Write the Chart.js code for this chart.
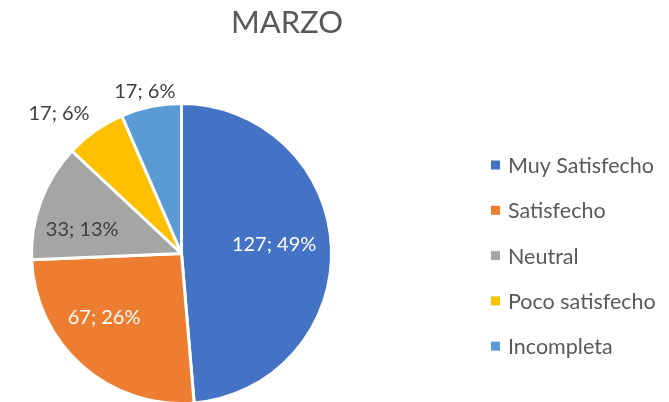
<!DOCTYPE html>
<html>
<head>
<meta charset="utf-8">
<script src="https://cdn.jsdelivr.net/npm/chart.js@4"></script>
<style>
  html, body { margin: 0; padding: 0; background: #fff; overflow: hidden; }
  #wrap { width: 669px; height: 402px; position: relative; overflow: hidden; }
</style>
</head>
<body>
<div id="wrap"><canvas id="c" width="669" height="408"></canvas></div>
<script>
const chartTitle = "MARZO";
const categories = ["Muy Satisfecho", "Satisfecho", "Neutral", "Poco satisfecho", "Incompleta"];
const values = [127, 67, 33, 17, 17];
const percentLabels = ["49%", "26%", "13%", "6%", "6%"];
const colors = ["#4472C4", "#ED7D31", "#A5A5A5", "#FFC000", "#5B9BD5"];

const FONT = "Lato, 'Open Sans', sans-serif";

// label placement per slice: angle shift (deg), radius fraction, text colour
const labelPlacement = [
  { angleShift: -3, r: 0.62, color: "#FFFFFF" },
  { angleShift: 9,  r: 0.67, color: "#FFFFFF" },
  { angleShift: -7, r: 0.68, color: "#404040" },
  { angleShift: -6, r: 1.24, color: "#404040" },
  { angleShift: -1, r: 1.11, color: "#404040" }
];

const drawPlugin = {
  id: "drawPlugin",
  afterDraw(chart) {
    const ctx = chart.ctx;
    ctx.save();
    // title
    ctx.fillStyle = "#595959";
    ctx.font = "31px " + FONT;
    ctx.textAlign = "center";
    ctx.textBaseline = "alphabetic";
    ctx.fillText(chartTitle, 287, 33);

    // data labels
    const meta = chart.getDatasetMeta(0);
    ctx.font = "20px " + FONT;
    ctx.textBaseline = "middle";
    meta.data.forEach((arc, i) => {
      const p = arc.getProps(["x", "y", "startAngle", "endAngle", "outerRadius"], true);
      const lp = labelPlacement[i];
      const mid = (p.startAngle + p.endAngle) / 2 + lp.angleShift * Math.PI / 180;
      const rr = p.outerRadius * lp.r;
      const x = p.x + Math.cos(mid) * rr;
      const y = p.y + Math.sin(mid) * rr;
      ctx.fillStyle = lp.color;
      ctx.fillText(values[i] + "; " + percentLabels[i], x, y);
    });

    // legend
    ctx.font = "21.5px " + FONT;
    ctx.textAlign = "left";
    const lx = 491, ly0 = 165, step = 45.3;
    categories.forEach((c, i) => {
      const y = ly0 + i * step;
      ctx.fillStyle = colors[i];
      ctx.fillRect(lx, y - 4.5, 9, 9);
      ctx.fillStyle = "#595959";
      ctx.fillText(c, lx + 17, y + 1);
    });
    ctx.restore();
  }
};

new Chart(document.getElementById("c"), {
  type: "pie",
  data: {
    labels: categories,
    datasets: [{
      data: values,
      backgroundColor: colors,
      borderColor: "#FFFFFF",
      borderWidth: 3,
      hoverOffset: 0
    }]
  },
  options: {
    responsive: false,
    animation: false,
    events: [],
    layout: { padding: { top: 102, bottom: 3, left: 30, right: 336 } },
    plugins: {
      legend: { display: false },
      tooltip: { enabled: false },
      title: { display: false }
    }
  },
  plugins: [drawPlugin]
});
</script>
</body>
</html>
